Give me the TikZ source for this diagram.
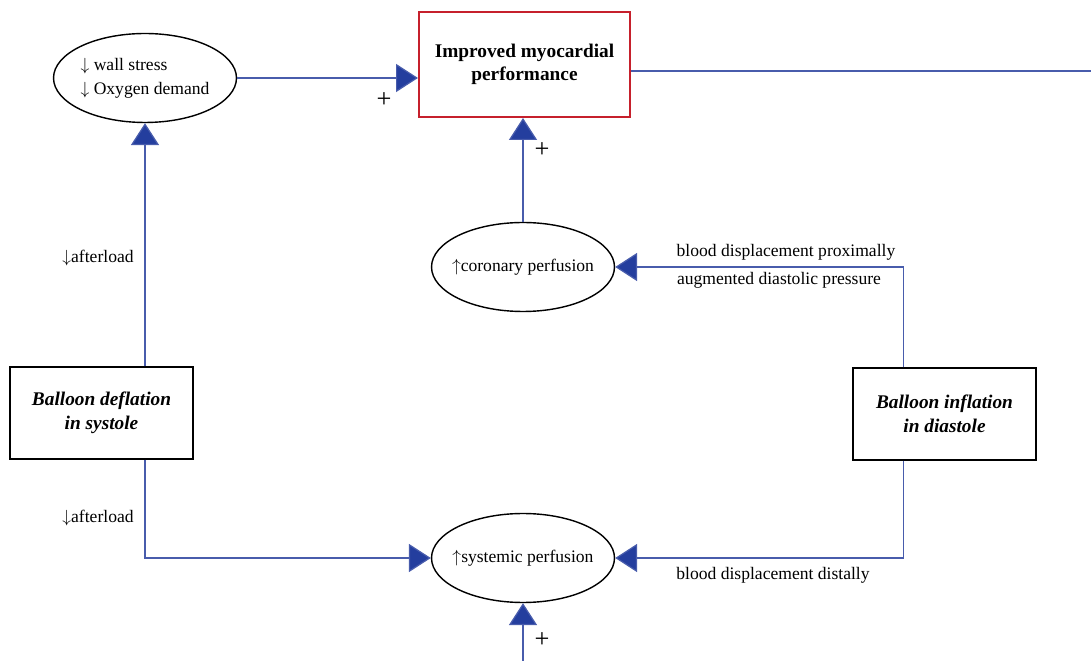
\documentclass[tikz,border=0pt]{standalone}
\usepackage{fontspec}
\setmainfont{Liberation Serif}
\usepackage{xcolor}
\definecolor{linkblue}{RGB}{72,92,172}
\definecolor{tipblue}{RGB}{36,62,158}
\definecolor{boxred}{RGB}{198,32,44}
\usetikzlibrary{arrows.meta, calc, positioning, shapes.geometric}

\tikzset{
	oval/.style={draw, ellipse, line width=0.8pt, inner sep=0pt, minimum width=3.66cm, minimum height=1.78cm, font=\fontsize{10}{13.5}\selectfont},
	balloon/.style={draw, line width=0.8pt, minimum width=3.66cm, minimum height=1.84cm, align=center, font=\fontsize{11}{13.5}\selectfont\bfseries\itshape},
	lbl/.style={inner sep=1pt, font=\fontsize{10}{12}\selectfont},
	plussign/.style={inner sep=0pt, font=\fontsize{15}{15}\selectfont},
	link/.style={draw=linkblue, line width=0.7pt, -{Triangle[length=12.5pt, width=16pt, fill=tipblue]}},
	plain/.style={draw=linkblue, line width=0.7pt}
}

\begin{document}
\begin{tikzpicture}[x=0.02cm, y=-0.02cm]
			\useasboundingbox (0,0) rectangle (1091,661);
			% Nodes
			\node[oval, align=left] (stress) at (145,78) {$\downarrow$ wall stress\\$\downarrow$ Oxygen demand};
			\node[draw=boxred, line width=1.2pt, minimum width=4.22cm, minimum height=2.1cm, align=center, font=\fontsize{11}{13}\selectfont\bfseries] (perf) at (524.5,64.5) {Improved myocardial\\performance};
			\node[oval] (coronary) at (523,267) {\makebox[2cm]{$\uparrow$coronary perfusion}};
			\node[oval] (systemic) at (523,558) {\makebox[2cm]{$\uparrow$systemic perfusion}};
			\node[balloon] (deflation) at (101.5,413) {Balloon deflation\\in systole};
			\node[balloon] (inflation) at (944.5,414) {Balloon inflation\\in diastole};
			\coordinate (rightend) at (1091,71);
			\coordinate (bottomend) at (523,661);
			
			% Links
			\draw[link] (stress.east) -- (stress.east -| perf.west);
			\draw[plain] (perf.east |- rightend) -- (rightend);
			\draw[link] (coronary.north) -- (coronary.north |- perf.south);
			\draw[link] (deflation.north -| stress.south) -- (stress.south);
			\draw[link] (deflation.south -| stress.south) |- (systemic.west);
			\draw[link] ($(inflation.north west)+(51.5,0)$) |- (coronary.east);
			\draw[link] ($(inflation.south west)+(51.5,0)$) |- (systemic.east);
			\draw[link] (bottomend) -- (systemic.south);
			
			% Labels
			\node[lbl] (proximal) at (786,252) {blood displacement proximally};
			\node[lbl] (augmented) at (779,280) {augmented diastolic pressure};
			\node[lbl] (distal) at (773,575) {blood displacement distally};
			\node[lbl] (afterup) at (98,258) {$\downarrow$afterload};
			\node[lbl] (afterdown) at (98,518) {$\downarrow$afterload};
			\foreach \px/\py [count=\i] in {384/100, 542/150, 542/640}
			{
				\node[plussign] (plus\i) at (\px,\py) {+};
			}
			
		\end{tikzpicture}
\end{document}
